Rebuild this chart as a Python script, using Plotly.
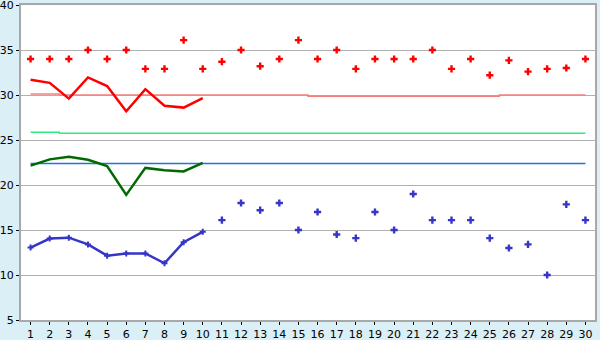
import plotly.graph_objects as go

days = list(range(1, 31))
days10 = list(range(1, 11))

max_pts = [34, 34, 34, 35, 34, 35, 32.9, 32.9, 36.1, 32.9,
           33.7, 35, 33.2, 34, 36.1, 34, 35, 32.9, 34, 34,
           34, 35, 32.9, 34, 32.2, 33.85, 32.6, 32.9, 33.0, 34]
max_line = [31.7, 31.35, 29.6, 31.95, 31.0, 28.2, 30.65, 28.8, 28.6, 29.65]
mid_line = [22.15, 22.85, 23.15, 22.8, 22.1, 18.9, 21.9, 21.65, 21.5, 22.45]
min_line = [13.05, 14.05, 14.15, 13.4, 12.15, 12.4, 12.4, 11.3, 13.65, 14.8]
min_pts = [None] * 10 + [16.1, 18, 17.2, 18, 15, 17, 14.5, 14.1, 17, 15,
                         19, 16.1, 16.1, 16.1, 14.1, 13.0, 13.4, 10, 17.85, 16.1]
avg_max = [30.1, 30.1] + [30.0] * 13 + [29.85] * 10 + [30.0] * 5
avg_mid = [25.85, 25.85] + [25.74] * 28
avg_min = [22.4] * 30
yticks = [5, 10, 15, 20, 25, 30, 35, 40]

fig = go.Figure()
fig.add_trace(go.Scatter(x=days, y=avg_max, mode="lines", line=dict(color="#F28080", width=1.5, shape="hvh")))
fig.add_trace(go.Scatter(x=days, y=avg_mid, mode="lines", line=dict(color="#2EEA80", width=1.5, shape="hvh")))
fig.add_trace(go.Scatter(x=days, y=avg_min, mode="lines", line=dict(color="#1C74E0", width=1.5)))
fig.add_trace(go.Scatter(x=days, y=max_pts, mode="markers",
                         marker=dict(symbol="cross", size=6, color="#FF0000", line=dict(width=0))))
fig.add_trace(go.Scatter(x=days10, y=max_line, mode="lines", line=dict(color="#FF0000", width=2.5)))
fig.add_trace(go.Scatter(x=days10, y=mid_line, mode="lines", line=dict(color="#006A00", width=2.5)))
fig.add_trace(go.Scatter(x=days10, y=min_line, mode="lines+markers", line=dict(color="#3535C8", width=2.5),
                         marker=dict(symbol="cross", size=5, color="#3535C8", line=dict(width=0))))
fig.add_trace(go.Scatter(x=days, y=min_pts, mode="markers",
                         marker=dict(symbol="cross", size=6, color="#3535C8", line=dict(width=0))))

fig.update_layout(
    width=600, height=340,
    margin=dict(l=21, r=5, t=5, b=20),
    paper_bgcolor="#DBEFF6", plot_bgcolor="#FFFFFF",
    showlegend=False,
    font=dict(family="DejaVu Sans", size=11, color="#000000"),
)
fig.update_xaxes(range=[0.5, 30.5], tickvals=days, ticktext=[str(d) for d in days], automargin=False,
                 ticklabeloverflow="allow",
                 showgrid=False, zeroline=False, showline=True, linecolor="#A8A8A8", linewidth=2,
                 mirror=True, ticks="outside", ticklen=3, tickcolor="#000000", tickfont=dict(size=11))
fig.update_yaxes(range=[5, 40], tickvals=yticks, showgrid=True, gridcolor="#B0B0B0", gridwidth=1,
                 ticklabeloverflow="allow",
                 zeroline=False, showline=True, linecolor="#A8A8A8", linewidth=2, mirror=True, automargin=False,
                 ticks="outside", ticklen=3, tickcolor="#000000", tickfont=dict(size=11))

fig.write_html("out.html")
